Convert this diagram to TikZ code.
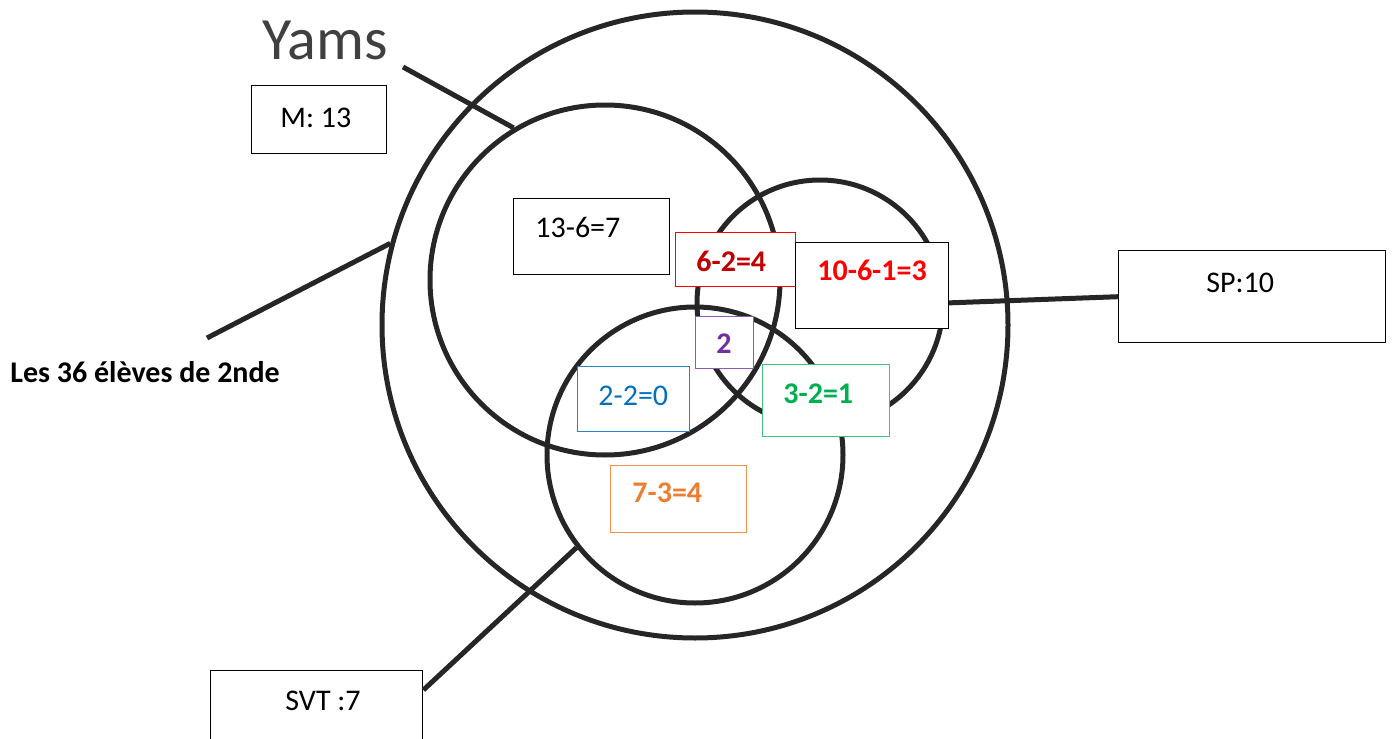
\documentclass[tikz,border=0pt]{standalone}
\usepackage{fontspec}
\setmainfont{Carlito}
\usepackage{xcolor}
\usetikzlibrary{positioning}

\definecolor{rouge}{HTML}{FF0000}
\definecolor{rougefonce}{HTML}{C00000}
\definecolor{violet}{HTML}{7030A0}
\definecolor{bleu}{HTML}{0070C0}
\definecolor{vert}{HTML}{00B050}
\definecolor{orange}{HTML}{ED7D31}

\begin{document}
\begin{tikzpicture}[
    x=0.5pt, y=-0.5pt,
    ensemble/.style={
        circle,
        draw=black!85,
        line width=2.5pt,
        inner sep=0pt
    },
    trait/.style={
        draw=black!85,
        line width=2.5pt
    },
    cadre/.style={
        rectangle,
        draw,
        fill=white,
        line width=0.7pt,
        inner sep=0pt,
        anchor=north west
    },
    txt/.style={
        anchor=base west,
        inner sep=0pt,
        font=\fontsize{15}{18}\selectfont
    },
    txtb/.style={
        txt,
        font=\fontsize{15}{18}\selectfont\bfseries
    }
]
\clip (0,0) rectangle (1394,739);

% ---------------- ENSEMBLES ----------------
\node[ensemble, minimum size=313pt] (univers) at (695,325) {};
\node[ensemble, minimum size=175pt] (maths) at (605,280) {};
\node[ensemble, minimum size=123pt] (phys) at (820,303) {};
\node[ensemble, minimum size=148pt] (svt) at (695,455) {};

% ---------------- TITRES ----------------
\node[anchor=base west, inner sep=0pt, text=black!75,
      font=\fontsize{30}{36}\selectfont] (yams) at (262,60) {Yams};
\node[txtb] (eleves) at (10,382) {Les 36 élèves de 2nde};

\coordinate (yamsbout) at (403,67);
\coordinate (elevesbout) at (207,338);

% ---------------- CADRES ----------------
\node[cadre, minimum width=67.5pt, minimum height=34pt] (mbox) at (251,85) {};
\node[cadre, minimum width=133.5pt, minimum height=46pt] (spbox) at (1118,250) {};
\node[cadre, minimum width=106pt, minimum height=40pt] (svtbox) at (210,670) {};

% ---------------- TRAITS ----------------
\draw[trait] (yamsbout) -- (maths.121);
\draw[trait] (elevesbout) -- (univers.165);
\draw[trait] (phys.east) -- (spbox.west);
\draw[trait] ([yshift=-10pt]svtbox.north east) -- (svt.218);

% ---------------- ZONES ----------------
\node[cadre, minimum width=78pt, minimum height=38pt] (mseul) at (513,198) {};
\node[cadre, draw=rouge, minimum width=60pt, minimum height=27pt] (mphys) at (675,232) {};
\node[cadre, minimum width=76.5pt, minimum height=43pt] (physseul) at (795,242) {};
\node[cadre, draw=violet!80, minimum width=29pt, minimum height=26pt] (trois) at (695,316) {};
\node[cadre, draw=bleu!85, minimum width=56pt, minimum height=32.5pt] (msvt) at (577,366) {};
\node[cadre, draw=vert!75, minimum width=63.5pt, minimum height=36pt] (physsvt) at (762,364) {};
\node[cadre, draw=orange!85, minimum width=68pt, minimum height=33.5pt] (svtseul) at (610,465) {};

% ---------------- TEXTES ----------------
\node[txt] (mtxt) at (280,127) {M: 13};
\node[txt] (sptxt) at (1206,292) {SP:10};
\node[txt] (svttxt) at (285,710) {SVT :7};
\node[txt] (mseultxt) at (535,237) {13-6=7};
\node[txtb, text=rougefonce] (mphystxt) at (696,271) {6-2=4};
\node[txtb, text=rouge] (physseultxt) at (817,280) {10-6-1=3};
\node[txtb, text=violet] (troistxt) at (716,353) {2};
\node[txt, text=bleu] (msvttxt) at (598,405) {2-2=0};
\node[txtb, text=vert] (physsvttxt) at (783,403) {3-2=1};
\node[txtb, text=orange] (svtseultxt) at (632,502) {7-3=4};

\end{tikzpicture}
\end{document}
